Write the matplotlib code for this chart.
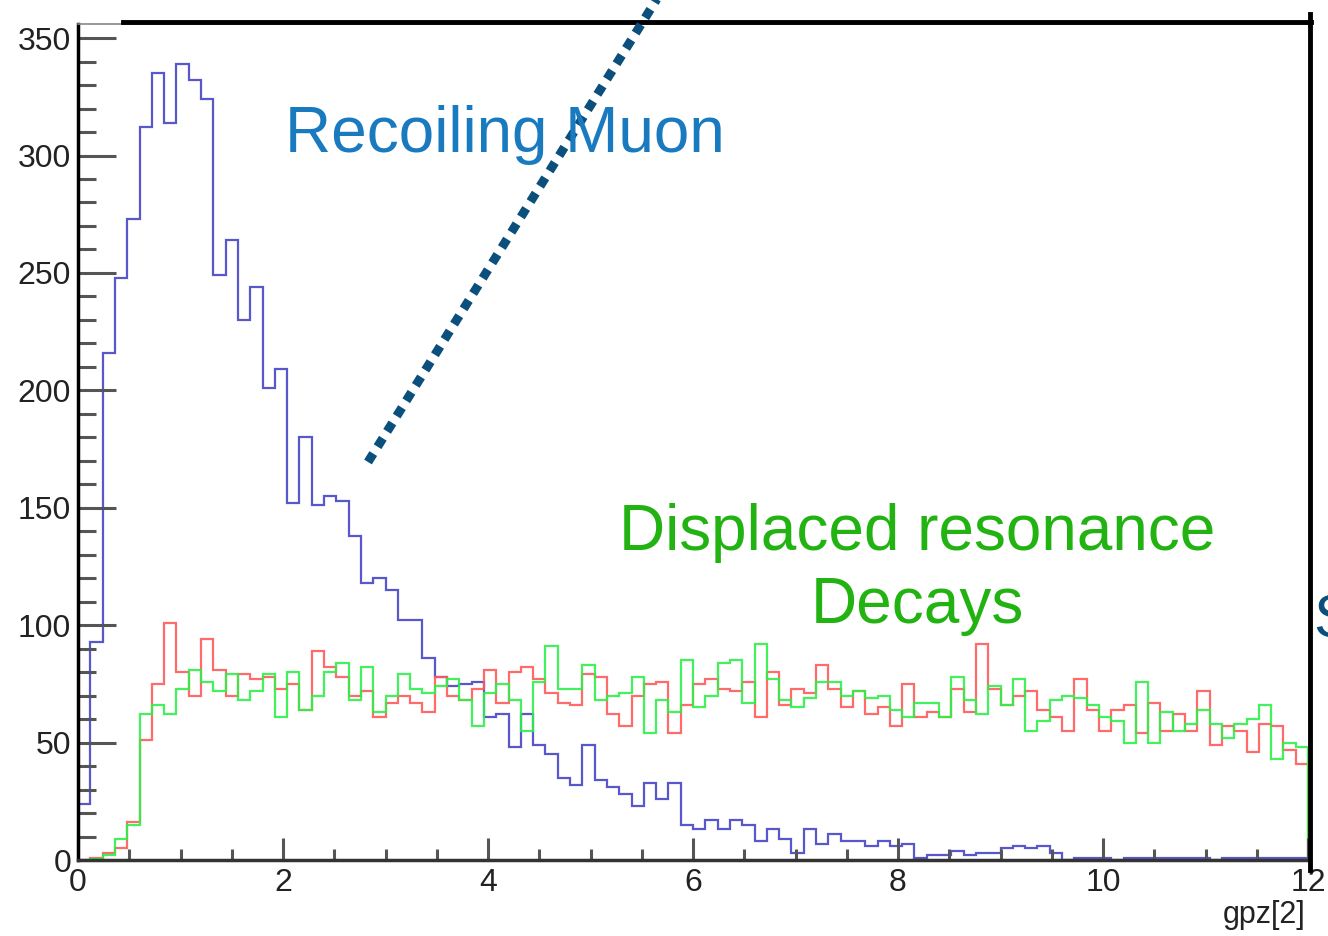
import numpy as np
import matplotlib
matplotlib.use("Agg")
import matplotlib.pyplot as plt
from matplotlib.lines import Line2D

plt.rcParams['font.family'] = ['Liberation Sans', 'DejaVu Sans']

# histogram binning: 100 bins between 0 and 12
n_bins = 100
x_range = (0, 12)

blue_counts = [24, 93, 216, 248, 273, 312, 335, 314, 339, 332,
               324, 249, 264, 230, 244, 201, 209, 152, 180, 151,
               155, 153, 138, 118, 120, 115, 102, 102, 86, 78,
               74, 75, 76, 61, 62, 48, 62, 49, 45, 35,
               32, 49, 34, 31, 28, 23, 33, 26, 33, 15,
               13, 17, 13, 17, 15, 8, 13, 9, 3, 13,
               7, 11, 8, 8, 6, 8, 6, 7, 1, 2,
               2, 4, 2, 3, 3, 5, 6, 5, 6, 3,
               0, 1, 1, 1, 0, 1, 1, 1, 1, 1,
               1, 1, 0, 1, 1, 1, 1, 1, 1, 1]

red_counts = [0, 1, 3, 5, 16, 51, 75, 101, 80, 70,
              94, 81, 70, 79, 77, 78, 73, 75, 64, 89,
              82, 78, 70, 72, 61, 67, 70, 67, 63, 78,
              70, 68, 73, 81, 67, 80, 82, 77, 71, 67,
              66, 79, 78, 62, 57, 70, 75, 76, 54, 66,
              75, 77, 73, 72, 76, 61, 80, 66, 73, 71,
              83, 73, 65, 72, 62, 65, 57, 75, 61, 63,
              61, 73, 63, 92, 73, 66, 70, 72, 64, 61,
              55, 77, 64, 55, 64, 66, 54, 67, 55, 62,
              55, 72, 49, 57, 55, 46, 58, 57, 47, 41]

green_counts = [0, 0.5, 2, 9, 15, 62, 66, 62, 73, 81,
                76, 72, 79, 68, 72, 79, 61, 80, 64, 70,
                80, 84, 68, 82, 63, 70, 79, 73, 71, 74,
                77, 68, 57, 71, 75, 68, 55, 76, 91, 73,
                73, 83, 68, 70, 71, 78, 54, 68, 63, 85,
                65, 70, 84, 85, 67, 92, 77, 68, 65, 69,
                76, 76, 70, 72, 69, 70, 64, 61, 67, 67,
                61, 78, 68, 62, 74, 66, 77, 55, 59, 68,
                70, 69, 66, 61, 59, 50, 76, 50, 63, 55,
                58, 64, 58, 52, 58, 60, 66, 43, 50, 48]

y_max = 356
x_ticks = [0, 2, 4, 6, 8, 10, 12]
y_ticks = [0, 50, 100, 150, 200, 250, 300, 350]

edges = np.linspace(x_range[0], x_range[1], n_bins + 1)

fig = plt.figure(figsize=(13.28, 9.36), dpi=100)
ax = fig.add_axes([78 / 1328, 76 / 936, 1230 / 1328, 836 / 936])

ax.stairs(blue_counts, edges, baseline=0, color='#5858cc', lw=1.6)
ax.stairs(red_counts, edges, baseline=0, color='#ff5a5a', lw=1.6, alpha=0.9)
ax.stairs(green_counts, edges, baseline=0, color='#2ef04a', lw=1.6, alpha=0.9)

ax.set_xlim(*x_range)
ax.set_ylim(0, y_max)
ax.set_xticks(x_ticks)
ax.set_xticks(np.arange(0, 12.01, 0.5), minor=True)
ax.set_yticks(y_ticks)
ax.set_yticks(np.arange(0, 351, 10), minor=True)
ax.tick_params(axis='y', which='major', direction='in', length=27, width=2.2,
               color='#555555', labelsize=23, pad=5)
ax.tick_params(axis='y', which='minor', direction='in', length=13, width=2.2,
               color='#555555')
ax.tick_params(axis='x', which='major', direction='in', length=16, width=2.2,
               color='#555555', labelsize=23, pad=6)
ax.tick_params(axis='x', which='minor', direction='in', length=8, width=2.2,
               color='#555555')
for lab in ax.get_xticklabels() + ax.get_yticklabels():
    lab.set_color('#222222')

ax.spines['left'].set_linewidth(2.5)
ax.spines['left'].set_color('black')
ax.spines['bottom'].set_linewidth(2.5)
ax.spines['bottom'].set_color('#333333')
ax.spines['top'].set_linewidth(1.2)
ax.spines['top'].set_color('#888888')
ax.spines['right'].set_visible(False)

fig.text(1305 / 1328, 6 / 936, 'gpz[2]', ha='right', va='bottom', fontsize=22,
         color='#222222')

# slide decorations
fig.add_artist(Line2D([123 / 1328, 1311 / 1328], [1 - 22 / 936, 1 - 22 / 936],
                      color='black', lw=3.5))
fig.add_artist(Line2D([1310 / 1328, 1310 / 1328], [1 - 14 / 936, 1 - 870 / 936],
                      color='black', lw=3.5))
fig.add_artist(Line2D([368 / 1328, 660 / 1328], [1 - 462 / 936, 1 + 6 / 936],
                      color='#0b4f7c', lw=6.5, linestyle=(0, (1.1, 0.9))))

fig.text(285 / 1328, 1 - 152 / 936, 'Recoiling Muon', fontsize=46,
         color='#1a7abf', va='baseline', ha='left')
fig.text(917 / 1328, 1 - 550 / 936, 'Displaced resonance', fontsize=46,
         color='#22b312', va='baseline', ha='center')
fig.text(917 / 1328, 1 - 623 / 936, 'Decays', fontsize=46,
         color='#22b312', va='baseline', ha='center')
fig.text(1313 / 1328, 1 - 637 / 936, 'S', fontsize=44,
         color='#0b4f7c', va='baseline', ha='left')

fig.savefig('out.png', dpi=100)
